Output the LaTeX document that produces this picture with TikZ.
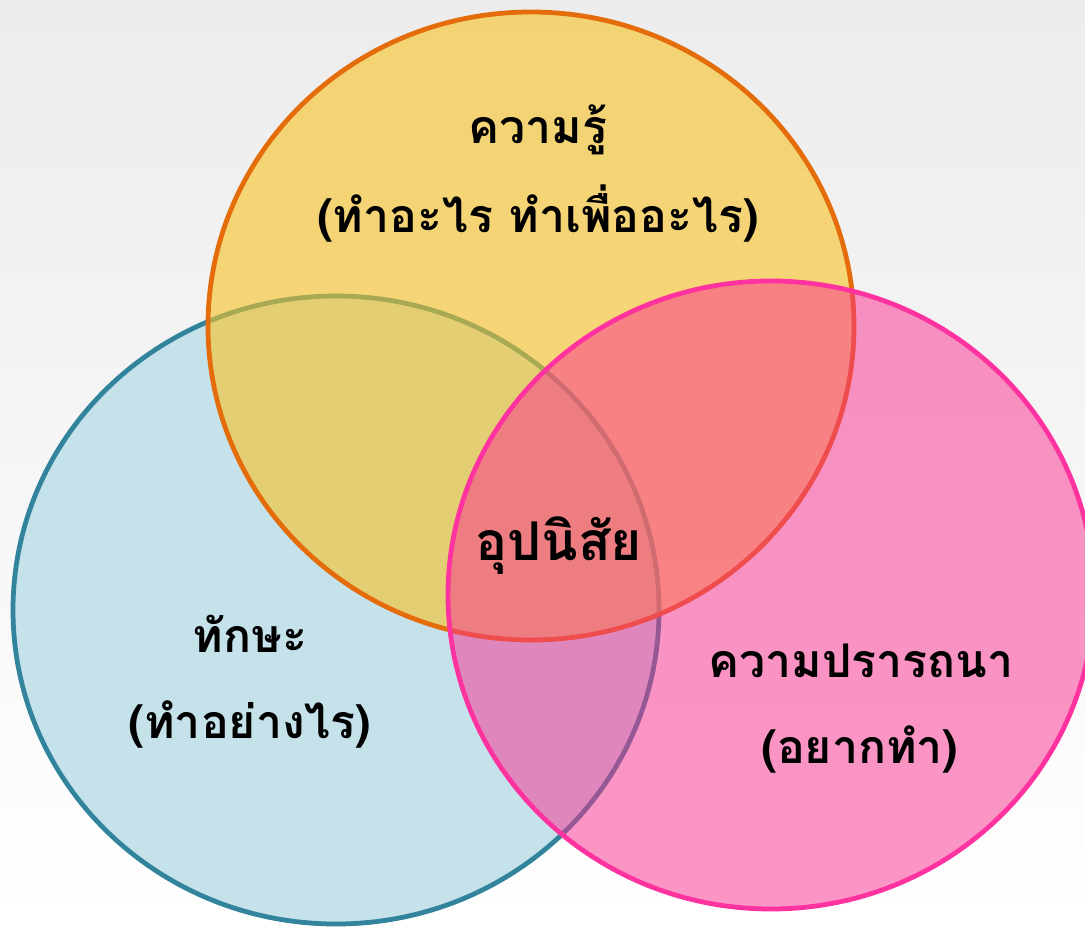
\documentclass[tikz,border=0pt]{standalone}
\usepackage{fontspec}
\newfontfamily\thaifont[Script=Thai]{Loma}
\definecolor{bgtop}{HTML}{ECECEC}
\definecolor{skyfill}{HTML}{C5E2EB}
\definecolor{skyline}{HTML}{31849B}
\definecolor{sunfill}{HTML}{F7C223}
\definecolor{sunline}{HTML}{E46C0A}
\definecolor{rosefill}{HTML}{FA2E90}
\definecolor{roseline}{HTML}{FF33A0}

\begin{document}
\begin{tikzpicture}[
					x=0.025cm,y=-0.025cm,
					ring/.style={line width=3.4pt},
					lbl/.style={font=\thaifont\bfseries\fontsize{33}{40}\selectfont,text=black,inner sep=0pt,anchor=base}
					]
					\shade[top color=bgtop,bottom color=white] (0,0) rectangle (1085,927);
					\useasboundingbox (0,0) rectangle (1085,927);
					% three sets: skill, knowledge, desire
					\foreach \cx/\cy/\fc/\dc/\op in {336/610/skyfill/skyline/1,531/326/sunfill/sunline/0.6,771/595/rosefill/roseline/0.5}{
						\draw[ring,draw=\dc,fill=\fc,fill opacity=\op] (\cx,\cy) ellipse [x radius=323,y radius=314];
					}
					\node[lbl] (know) at (538,143) {ความรู้};
					\node[lbl] (knowq) at (538,232) {(ทำอะไร ทำเพื่ออะไร)};
					\node[lbl] (skill) at (250,652) {ทักษะ};
					\node[lbl] (skillq) at (250,738) {(ทำอย่างไร)};
					\node[lbl] (want) at (861,677) {ความปรารถนา};
					\node[lbl] (wantq) at (860,763) {(อยากทำ)};
					\node[lbl,font=\thaifont\bfseries\fontsize{38}{44}\selectfont] (habit) at (559,560) {อุปนิสัย};
				\end{tikzpicture}
\end{document}
